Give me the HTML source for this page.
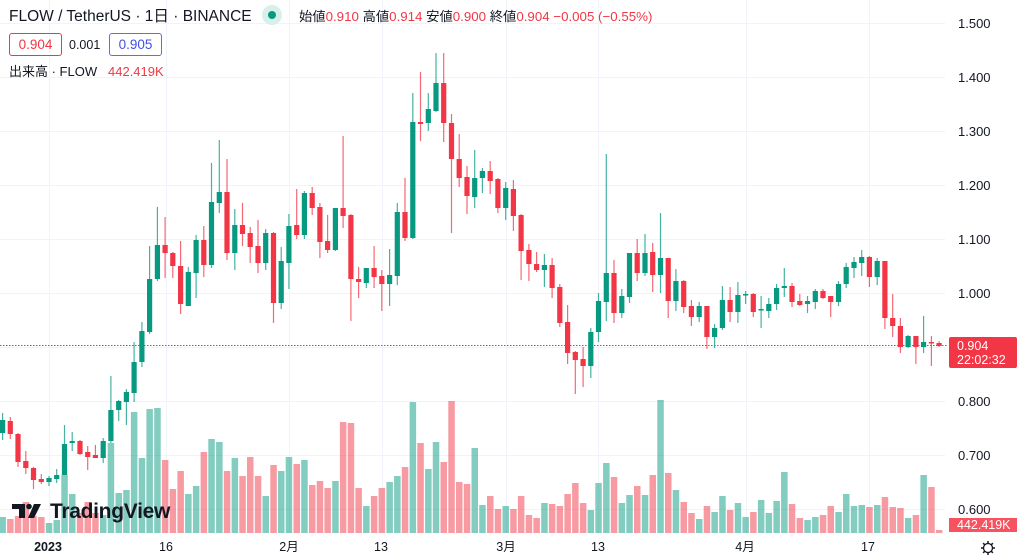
<!DOCTYPE html>
<html><head><meta charset="utf-8">
<style>
html,body{margin:0;padding:0;background:#fff;width:1024px;height:560px;overflow:hidden;font-family:"Liberation Sans","Noto Sans CJK JP",sans-serif;}
#wrap{position:relative;width:1024px;height:560px;}
svg{position:absolute;left:0;top:0;}
.t{position:absolute;white-space:nowrap;color:#131722;line-height:16px;}
.r{color:#F23645}
.box{position:absolute;border:1px solid;border-radius:3px;font-size:13.5px;height:21px;line-height:21px;text-align:center;}
.ax{position:absolute;left:958px;font-size:13px;color:#131722;}
.tm{position:absolute;top:540px;font-size:12.5px;line-height:15px;color:#131722;transform:translateX(-50%);}
</style></head><body><div id="wrap">
<svg id="s" width="1024" height="560" xmlns="http://www.w3.org/2000/svg"></svg>

<div class="t" style="left:9px;top:9px;font-size:15.5px;">FLOW / TetherUS · 1日 · BINANCE</div>
<div style="position:absolute;left:262px;top:5px;width:20px;height:20px;border-radius:50%;background:#d7f0ea;"></div>
<div style="position:absolute;left:268px;top:11px;width:8px;height:8px;border-radius:50%;background:#089981;"></div>
<div class="t" style="left:299px;top:9px;font-size:13.3px;">始値<span class="r">0.910</span> 高値<span class="r">0.914</span> 安値<span class="r">0.900</span> 終値<span class="r">0.904</span> <span class="r">−0.005 (−0.55%)</span></div>
<div class="box" style="left:9px;top:33px;width:51px;border-color:#F23645;color:#F23645;">0.904</div>
<div class="t" style="left:69px;top:37px;font-size:12.5px;">0.001</div>
<div class="box" style="left:109px;top:33px;width:51px;border-color:#5b6cf6;color:#3f51e8;">0.905</div>
<div class="t" style="left:9px;top:64px;font-size:13px;">出来高 · FLOW</div>
<div class="t r" style="left:108px;top:64px;font-size:13px;">442.419K</div>

<div class="ax" style="top:16px">1.500</div>
<div class="ax" style="top:70px">1.400</div>
<div class="ax" style="top:124px">1.300</div>
<div class="ax" style="top:178px">1.200</div>
<div class="ax" style="top:232px">1.100</div>
<div class="ax" style="top:286px">1.000</div>
<div class="ax" style="top:394px">0.800</div>
<div class="ax" style="top:448px">0.700</div>
<div class="ax" style="top:502px">0.600</div>
<div style="position:absolute;left:949px;top:337px;width:68px;height:31px;background:#F23645;border-radius:2px;color:#fff;font-size:12.5px;line-height:14px;padding-left:8px;box-sizing:border-box;padding-top:2px;">0.904<br>22:02:32</div>
<div style="position:absolute;left:949px;top:518px;width:68px;height:14px;background:#f7525f;color:#fff;font-size:12.5px;line-height:14px;padding-left:8px;box-sizing:border-box;">442.419K</div>

<div class="tm" style="left:48px;font-weight:bold;">2023</div>
<div class="tm" style="left:166px;">16</div>
<div class="tm" style="left:289px;">2月</div>
<div class="tm" style="left:381px;">13</div>
<div class="tm" style="left:506px;">3月</div>
<div class="tm" style="left:598px;">13</div>
<div class="tm" style="left:745px;">4月</div>
<div class="tm" style="left:868px;">17</div>

<div class="t" style="left:50px;top:500px;font-size:21px;line-height:24px;font-weight:bold;color:#131722;letter-spacing:-0.3px;">TradingView</div>
</div>
<script>
var D=[
[-6,'g',420,433,413,440,517],[-5,'r',421,434,417,439,519],[-4,'r',434,462,433,467,516],[-3,'r',461,468,451,474,502],
[-2,'r',468,480,467,489,516],[-1,'r',479,482,474,484,517],[0,'g',478,482,476,486,523],[1,'g',475,479,469,483,520],
[2,'g',444,475,425,475,475],[3,'g',441,443,432,451,494],[4,'r',441,454,440,455,513],[5,'r',452,457,446,470,502],
[6,'r',455,458,445,458,513],[7,'g',441,458,438,463,515],[8,'g',410,441,376,443,443],[9,'g',401,410,400,421,493],
[10,'g',392,402,389,425,490],[11,'g',362,393,342,402,412],[12,'g',331,362,322,367,458],[13,'g',279,332,246,334,409],
[14,'g',245,279,207,281,408],[15,'r',245,253,217,278,460],[16,'r',253,266,252,278,489],[17,'r',266,304,241,314,471],
[18,'g',272,306,267,306,494],[19,'g',240,273,235,298,486],[20,'r',240,265,226,277,452],[21,'g',202,265,163,268,439],
[22,'g',192,203,140,213,442],[23,'r',192,253,159,260,471],[24,'g',225,253,209,270,458],
[25,'r',225,234,203,246,476],[26,'r',233,247,227,263,457],[27,'r',246,263,220,273,476],[28,'g',233,263,229,270,496],
[29,'r',233,303,232,323,465],[30,'g',261,303,247,309,471],[31,'g',226,263,214,289,457],[32,'r',225,235,189,239,464],
[33,'g',193,235,191,239,460],[34,'r',193,208,187,215,485],[35,'r',207,242,203,258,481],[36,'r',241,250,215,253,488],
[37,'g',208,250,208,251,481],[38,'r',208,216,136,228,422],[39,'r',215,279,214,321,423],[40,'r',279,282,267,298,488],
[41,'g',268,283,268,288,506],[42,'r',268,277,246,288,496],[43,'r',276,284,270,311,488],[44,'g',275,284,249,306,482],
[45,'g',212,276,203,285,476],[46,'r',212,238,178,241,467],[47,'g',122,238,93,239,402],[48,'r',122,124,72,141,443],
[49,'g',109,123,93,131,469],[50,'g',83,111,53,112,442],[51,'r',83,123,53,142,462],[52,'r',123,159,114,233,401],
[53,'r',159,178,134,187,482],[54,'r',177,196,166,214,484],[55,'g',178,197,150,208,448],[56,'g',171,178,168,193,505],
[57,'r',171,181,161,194,496],[58,'r',179,208,178,213,509],[59,'g',188,208,182,220,506],[60,'r',189,216,180,231,509],
[61,'r',215,251,214,280,496],[62,'r',250,264,244,281,515],[63,'r',264,270,252,272,518],[64,'g',265,270,254,287,503],
[65,'r',265,288,258,298,504],[66,'r',287,323,284,327,506],[67,'r',322,353,305,364,494],[68,'r',352,360,351,394,483],
[69,'r',359,366,347,387,503],[70,'g',332,366,328,378,510],[71,'g',301,332,293,342,483],[72,'g',273,302,154,321,463],
[73,'r',273,313,260,323,477],[74,'g',296,313,289,318,503],[75,'g',253,297,253,303,495],[76,'r',253,273,239,281,486],
[77,'g',253,273,234,276,495],[78,'r',252,275,243,292,475],[79,'g',258,275,213,293,400],[80,'r',258,301,258,318,473],
[81,'g',281,301,269,311,490],[82,'r',281,307,280,313,502],[83,'r',306,317,300,326,513],[84,'g',306,317,302,322,519],
[85,'r',306,337,306,349,506],[86,'g',328,337,324,348,512],[87,'g',300,328,286,330,496],[88,'r',300,312,287,322,510],
[89,'g',295,312,282,323,503],[90,'g',294,295,291,304,517],[91,'r',294,312,293,317,512],[92,'g',309,310,296,328,500],
[93,'g',304,311,298,318,513],[94,'g',288,304,284,310,501],[95,'g',286,288,268,297,472],[96,'r',286,302,283,307,504],
[97,'r',301,305,294,306,518],[98,'g',301,304,296,313,520],[99,'g',291,302,289,309,517],[100,'r',291,298,289,299,515],
[101,'r',296,302,296,317,506],[102,'g',284,302,281,306,512],[103,'g',267,284,263,288,494],[104,'g',262,268,257,278,506],
[105,'g',257,263,250,276,505],[106,'r',257,277,256,287,507],[107,'g',261,277,258,285,505],[108,'r',261,318,261,329,497],
[109,'r',318,326,294,337,507],[110,'r',326,347,318,353,508],[111,'g',336,347,335,348,518],[112,'r',336,347,336,364,515],
[113,'g',342,347,316,353,475],[114,'r',342,343,336,366,487],[115,'r',343,346,341,347,530]];
var s=document.getElementById('s'),h='';
[23,77,131,185,239,293,347,401,455,509].forEach(function(y){h+='<line x1="0" x2="945" y1="'+(y+0.5)+'" y2="'+(y+0.5)+'" stroke="#f0f3fa"/>';});
[49,166,289,382,506,598,746,869].forEach(function(x){h+='<line y1="0" y2="533" x1="'+(x+0.5)+'" x2="'+(x+0.5)+'" stroke="#f0f3fa"/>';});
var G='#089981',R='#F23645';
D.forEach(function(d){var x=49+7.74*d[0],c=d[1]=='g'?G:R;
 h+='<rect x="'+(x-3.2).toFixed(1)+'" y="'+d[6]+'" width="6.5" height="'+(533-d[6])+'" fill="'+c+'" fill-opacity="0.5"/>';});
for(var px=0;px<947;px+=3){h+='<rect x="'+px+'" y="345" width="1.5" height="1" fill="#F23645"/>';}
D.forEach(function(d){var x=49+7.74*d[0],c=d[1]=='g'?G:R;
 h+='<line x1="'+x.toFixed(1)+'" x2="'+x.toFixed(1)+'" y1="'+d[4]+'" y2="'+d[5]+'" stroke="'+c+'" stroke-opacity="0.75" stroke-width="1.2"/>';
 var bh=Math.max(1.5,d[3]-d[2]);
 h+='<rect x="'+(x-2.6).toFixed(1)+'" y="'+d[2]+'" width="5.2" height="'+bh+'" fill="'+c+'"/>';});
h+='<path d="M12 504h13v14h-6v-9h-7z" fill="#131722"/><circle cx="29" cy="506.5" r="2.8" fill="#131722"/><path d="M34 504h7l-7 14h-6z" fill="#131722"/>';
// gear
h+='<circle cx="988" cy="548" r="4.5" fill="none" stroke="#131722" stroke-width="1.3"/>';
for(var a=0;a<8;a++){var t=a*Math.PI/4;h+='<line x1="'+(988+4.5*Math.cos(t)).toFixed(1)+'" y1="'+(548+4.5*Math.sin(t)).toFixed(1)+'" x2="'+(988+7*Math.cos(t)).toFixed(1)+'" y2="'+(548+7*Math.sin(t)).toFixed(1)+'" stroke="#131722" stroke-width="1.5"/>';}
s.innerHTML=h;
</script>
</body></html>
